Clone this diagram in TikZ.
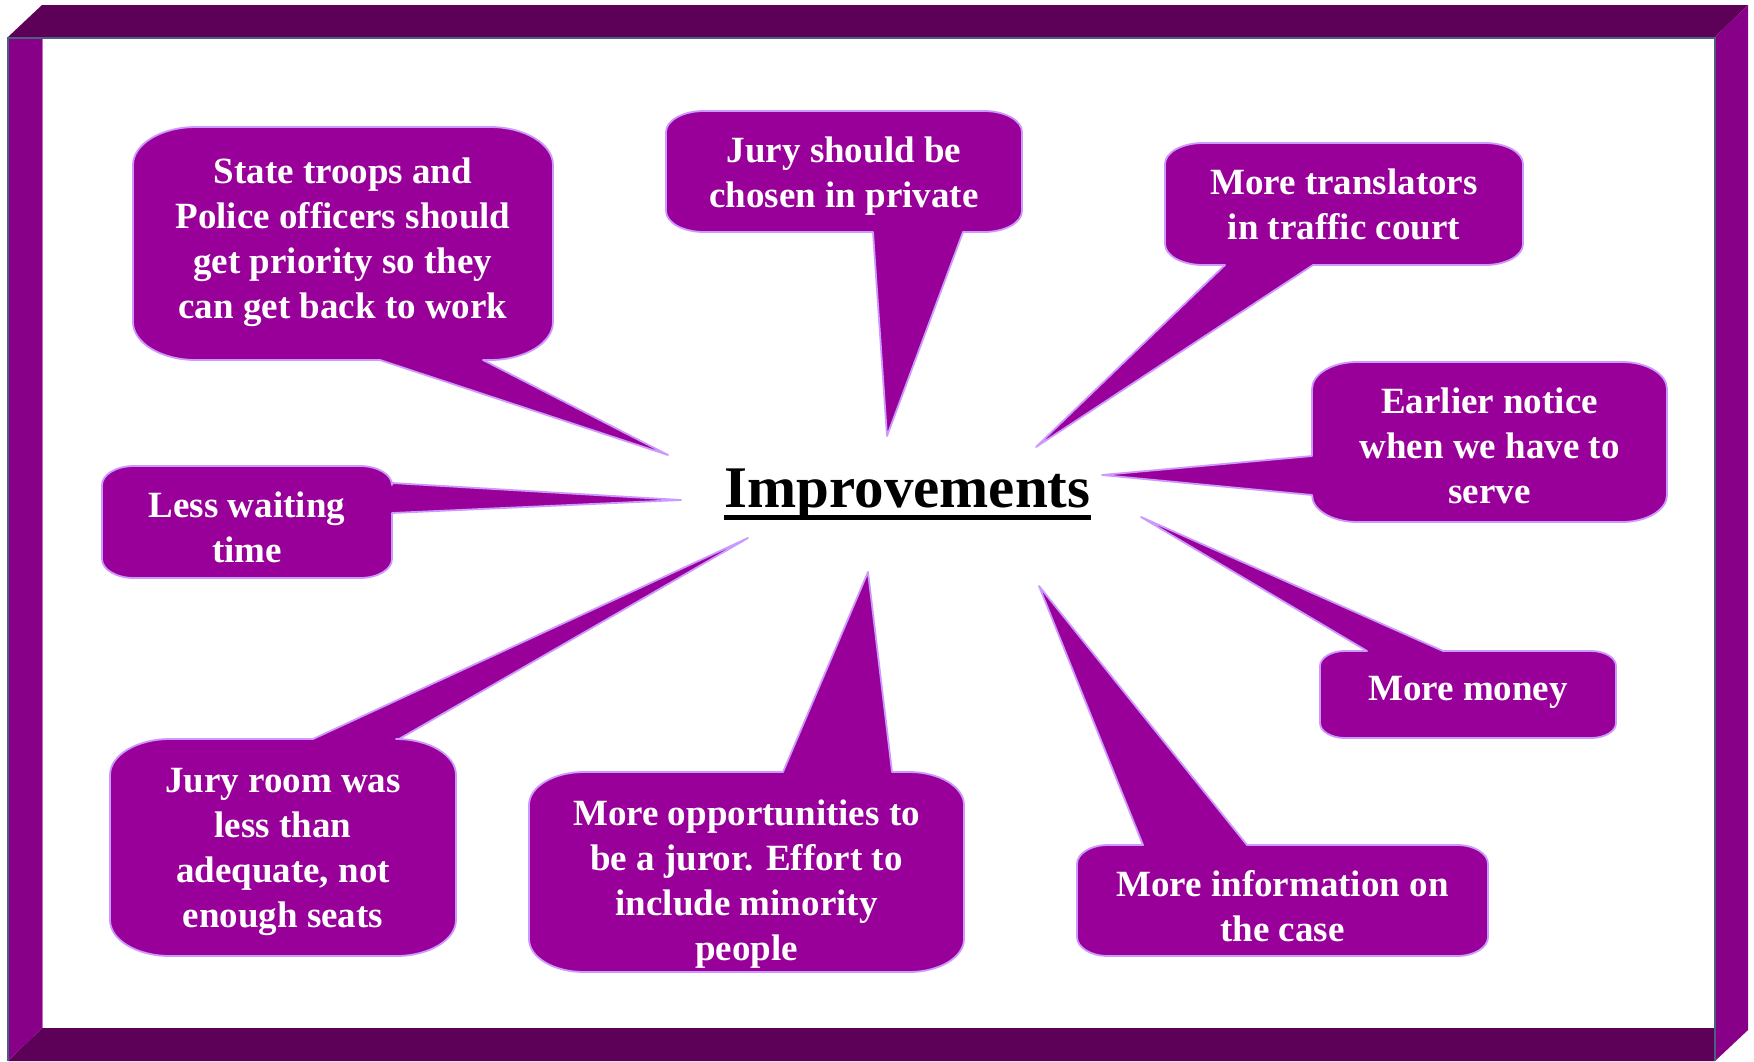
\documentclass[tikz,border=0pt]{standalone}
\usepackage{fontspec}
\setmainfont{Liberation Serif}
\definecolor{calfill}{HTML}{990099}
\definecolor{caledge}{HTML}{CC99FF}
\definecolor{framedark}{HTML}{5C0058}
\definecolor{frameside}{HTML}{880088}
\definecolor{frameline}{HTML}{4A6080}
\definecolor{frameinner}{HTML}{CC66CC}
% #1 L, #2 T, #3 R, #4 B, #5 rx, #6 ry, #7 p1, #8 p2, #9 tip
\newcommand\calloutB[9]{%
\draw[callout] ({#1+#5},{#2}) -- ({#3-#5},{#2})
 arc[start angle=270,end angle=360,x radius=#5,y radius=#6] -- ({#3},{#4-#6})
 arc[start angle=0,end angle=90,x radius=#5,y radius=#6] -- ({#8},{#4}) -- (#9) -- ({#7},{#4}) -- ({#1+#5},{#4})
 arc[start angle=90,end angle=180,x radius=#5,y radius=#6] -- ({#1},{#2+#6})
 arc[start angle=180,end angle=270,x radius=#5,y radius=#6] -- cycle;}
\newcommand\calloutT[9]{%
\draw[callout] ({#1+#5},{#2}) -- ({#7},{#2}) -- (#9) -- ({#8},{#2}) -- ({#3-#5},{#2})
 arc[start angle=270,end angle=360,x radius=#5,y radius=#6] -- ({#3},{#4-#6})
 arc[start angle=0,end angle=90,x radius=#5,y radius=#6] -- ({#1+#5},{#4})
 arc[start angle=90,end angle=180,x radius=#5,y radius=#6] -- ({#1},{#2+#6})
 arc[start angle=180,end angle=270,x radius=#5,y radius=#6] -- cycle;}
\newcommand\calloutR[9]{%
\draw[callout] ({#1+#5},{#2}) -- ({#3-#5},{#2})
 arc[start angle=270,end angle=360,x radius=#5,y radius=#6] -- ({#3},{#7}) -- (#9) -- ({#3},{#8}) -- ({#3},{#4-#6})
 arc[start angle=0,end angle=90,x radius=#5,y radius=#6] -- ({#1+#5},{#4})
 arc[start angle=90,end angle=180,x radius=#5,y radius=#6] -- ({#1},{#2+#6})
 arc[start angle=180,end angle=270,x radius=#5,y radius=#6] -- cycle;}
\newcommand\calloutL[9]{%
\draw[callout] ({#1+#5},{#2}) -- ({#3-#5},{#2})
 arc[start angle=270,end angle=360,x radius=#5,y radius=#6] -- ({#3},{#4-#6})
 arc[start angle=0,end angle=90,x radius=#5,y radius=#6] -- ({#1+#5},{#4})
 arc[start angle=90,end angle=180,x radius=#5,y radius=#6] -- ({#1},{#8}) -- (#9) -- ({#1},{#7}) -- ({#1},{#2+#6})
 arc[start angle=180,end angle=270,x radius=#5,y radius=#6] -- cycle;}
\begin{document}
\begin{tikzpicture}[x=1pt,y=-1pt,
  callout/.style={fill=calfill,draw=caledge,line width=1.8pt,line join=round},
  txt/.style={text=white,font=\fontsize{37}{45}\selectfont\bfseries,align=center,inner sep=0pt}]
\path[use as bounding box,fill=white] (0,0) rectangle (1754,1061);
% frame
\fill[framedark] (42,5) -- (1748,5) -- (1715,37) -- (8,37) -- cycle;
\fill[framedark] (42,1028) -- (1715,1028) -- (1715,1061) -- (8,1061) -- cycle;
\fill[frameside] (8,37) -- (42,37) -- (42,1028) -- (8,1061) -- cycle;
\fill[frameside] (1715,37) -- (1748,5) -- (1748,1030) -- (1715,1061) -- cycle;
\draw[frameinner,line width=1pt] (42.5,39) -- (42.5,1028);
\draw[frameline,line width=2pt] (8,1061) -- (8,38) -- (1715,38) -- (1715,1061);
% tips
\coordinate (t1) at (668,455);
\coordinate (t2) at (887,436);
\coordinate (t3) at (1036,447);
\coordinate (t4) at (1102,475);
\coordinate (t5) at (1141,517);
\coordinate (t6) at (1039,586);
\coordinate (t7) at (868,572);
\coordinate (t8) at (748,538);
\coordinate (t9) at (681,500);
% callouts
\calloutB{133}{127}{553}{360}{63}{38}{380}{483}{t1}
\calloutB{666}{111}{1022}{232}{38}{21}{873}{963}{t2}
\calloutB{1165}{143}{1523}{265}{38}{21}{1225}{1313}{t3}
\calloutL{1312}{362}{1667}{522}{45}{27}{456}{495}{t4}
\calloutT{1320}{651}{1616}{738}{25}{15}{1367}{1443}{t5}
\calloutT{1077}{845}{1488}{956}{31}{19}{1143}{1247}{t6}
\calloutT{529}{772}{964}{972}{55}{33}{783}{892}{t7}
\calloutT{110}{739}{456}{956}{60}{36}{313}{399}{t8}
\calloutR{102}{466}{392}{578}{32}{19}{483}{513}{t9}
% texts
\node[txt] (b1) at (343,242.5) {State troops and\\Police officers should\\get priority so they\\can get back to work};
\node[txt] (b2) at (844,176) {Jury should be\\chosen in private};
\node[txt] (b3) at (1344,204.5) {More translators\\in traffic court};
\node[txt] (b4) at (1489.5,446) {Earlier notice\\when we have to\\serve};
\node[txt] (b5) at (1468,692) {More money};
\node[txt] (b6) at (1282.5,906.5) {More information on\\the case};
\node[txt] (b7) at (746.5,884) {More opportunities to\\be a juror. Effort to\\include minority\\people};
\node[txt] (b8) at (283,852) {Jury room was\\less than\\adequate, not\\enough seats};
\node[txt] (b9) at (247,527.5) {Less waiting\\time};
% centre
\node[anchor=base,font=\fontsize{59}{70}\selectfont\bfseries,inner sep=0pt] (imp) at (907.5,507) {Improvements};
\draw[line width=5pt] ([yshift=-10.5pt]imp.base west) -- ([yshift=-10.5pt]imp.base east);
\end{tikzpicture}
\end{document}
